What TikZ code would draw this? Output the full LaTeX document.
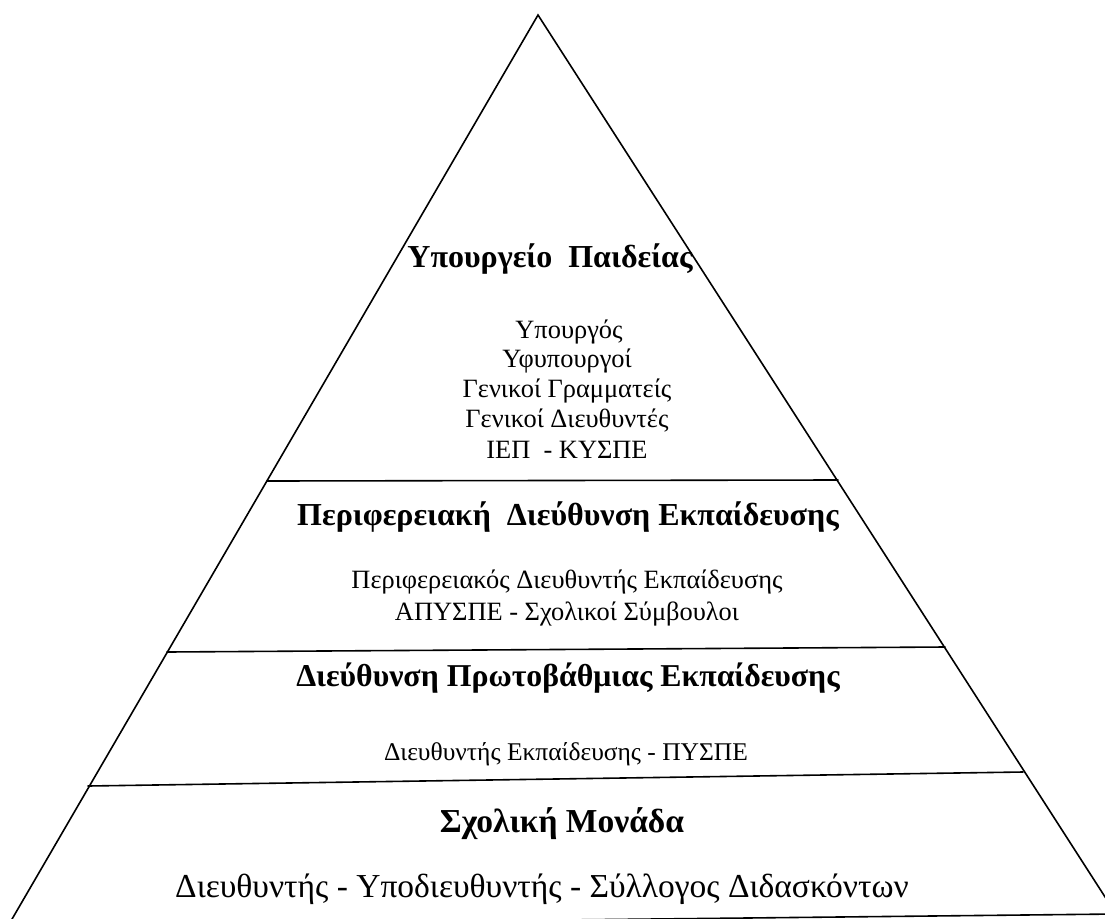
\documentclass[tikz,border=0pt]{standalone}
\usepackage{fontspec}
\setmainfont{Liberation Serif}
\begin{document}
\begin{tikzpicture}[x=1pt,y=-1pt,
  edge/.style={line width=1.6pt,line cap=round},
  head/.style={anchor=base,inner sep=0pt,font=\fontsize{#1}{36}\selectfont\bfseries},
  head/.default=32,
  sub/.style={anchor=base,inner sep=0pt,font=\fontsize{#1}{30}\selectfont},
  sub/.default=26.4]
\useasboundingbox (0,0) rectangle (1105,918);
\clip (0,0) rectangle (1105,918);
\coordinate (A) at (538,15);
\coordinate (BL) at (8,926);
\coordinate (BR) at (1116,914);
\draw[edge] (BL) -- (A) -- (BR) -- cycle;
\coordinate (l1a) at (267,481); \coordinate (l1b) at (838,480);
\coordinate (l2a) at (167,652); \coordinate (l2b) at (945,647);
\coordinate (l3a) at (88,786);  \coordinate (l3b) at (1023,772);
\draw[edge] (l1a) -- (l1b);
\draw[edge] (l2a) -- (l2b);
\draw[edge] (l3a) -- (l3b);
% level 1
\node[head=32] (t1) at (550,267) {Υπουργείο\ \ Παιδείας};
\node[sub] (s1a) at (569,338) {Υπουργός};
\node[sub] (s1b) at (567,367) {Υφυπουργοί};
\node[sub] (s1c) at (567,397) {Γενικοί Γραμματείς};
\node[sub] (s1d) at (567,427) {Γενικοί Διευθυντές};
\node[sub] (s1e) at (567,458) {ΙΕΠ\ \ - ΚΥΣΠΕ};
% level 2
\node[head=32] (t2) at (568,525) {Περιφερειακή\ \ Διεύθυνση Εκπαίδευσης};
\node[sub] (s2a) at (567,588) {Περιφερειακός Διευθυντής Εκπαίδευσης};
\node[sub] (s2b) at (567,620) {ΑΠΥΣΠΕ - Σχολικοί Σύμβουλοι};
% level 3
\node[head=31.8] (t3) at (568,686) {Διεύθυνση Πρωτοβάθμιας Εκπαίδευσης};
\node[sub=25.5] (s3a) at (566,760) {Διευθυντής Εκπαίδευσης - ΠΥΣΠΕ};
% level 4
\node[head=33.5] (t4) at (562,832) {Σχολική Μονάδα};
\node[sub=33.5] (s4a) at (542,897) {Διευθυντής - Υποδιευθυντής - Σύλλογος Διδασκόντων};
\end{tikzpicture}
\end{document}
